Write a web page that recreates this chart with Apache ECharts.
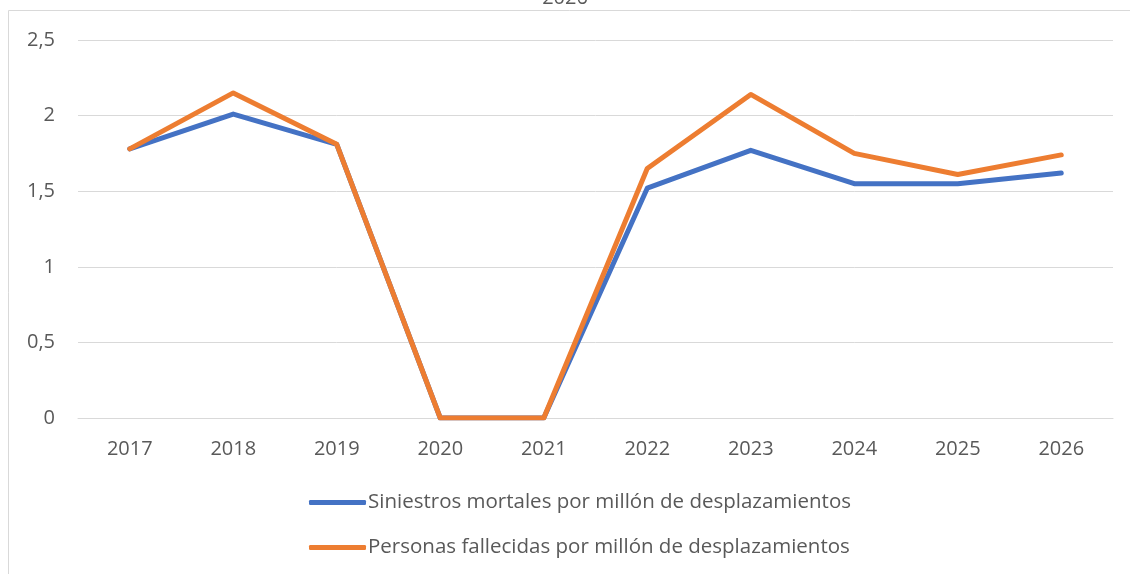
<!DOCTYPE html>
<html>
<head>
<meta charset="utf-8">
<style>
  html, body { margin: 0; padding: 0; background: #fff; }
  #chart { width: 1130px; height: 574px; }
</style>
<script src="https://cdn.jsdelivr.net/npm/echarts@6/dist/echarts.min.js"></script>
</head>
<body>
<div id="chart"></div>
<script>
// datos
const years = ['2017', '2018', '2019', '2020', '2021', '2022', '2023', '2024', '2025', '2026']
const siniestros = [1.78, 2.01, 1.81, 0, 0, 1.52, 1.77, 1.55, 1.55, 1.62]
const fallecidos = [1.78, 2.15, 1.81, 0, 0, 1.65, 2.14, 1.75, 1.61, 1.74]
const seriesNames = ['Siniestros mortales por millón de desplazamientos', 'Personas fallecidas por millón de desplazamientos']

const chart = echarts.init(document.getElementById('chart'))
const font = "'Open Sans', sans-serif"

const option = {
  animation: false,
  title: {
    text: '2026',
    left: 'center',
    top: -17,
    textStyle: { fontFamily: font, fontSize: 20, fontWeight: 'normal', color: '#595959' }
  },
  graphic: [
    {
      type: 'rect',
      shape: { x: 8.5, y: 10.5, width: 1200, height: 700 },
      style: { fill: 'none', stroke: '#d9d9d9', lineWidth: 1 }
    }
  ],
  grid: { left: 78, right: 17, top: 40, bottom: 156 },
  legend: {
    orient: 'vertical',
    left: 304,
    top: 487,
    itemGap: 24,
    itemWidth: 57,
    itemHeight: 5,
    icon: 'roundRect',
    data: seriesNames,
    textStyle: { fontFamily: font, fontSize: 20.5, color: '#595959', padding: [0, 0, 0, -3] }
  },
  xAxis: {
    type: 'category',
    data: years,
    axisLine: { lineStyle: { color: '#d9d9d9', width: 1 } },
    axisTick: { show: false },
    axisLabel: { fontFamily: font, fontSize: 20, color: '#595959', margin: 21 }
  },
  yAxis: {
    type: 'value',
    min: 0,
    max: 2.5,
    interval: 0.5,
    axisLine: { show: false },
    axisTick: { show: false },
    splitLine: { lineStyle: { color: '#d9d9d9', width: 1 } },
    axisLabel: {
      fontFamily: font, fontSize: 20, color: '#595959', margin: 23,
      formatter: (v) => String(v).replace('.', ',')
    }
  },
  series: [
    {
      name: seriesNames[0],
      type: 'line',
      data: siniestros,
      symbol: 'none',
      color: '#4472c4',
      lineStyle: { width: 5, cap: 'round', join: 'round' },
      z: 2
    },
    {
      name: seriesNames[1],
      type: 'line',
      data: fallecidos,
      symbol: 'none',
      color: '#ed7d31',
      lineStyle: { width: 5, cap: 'round', join: 'round' },
      z: 3
    }
  ]
}
chart.setOption(option)
</script>
</body>
</html>
